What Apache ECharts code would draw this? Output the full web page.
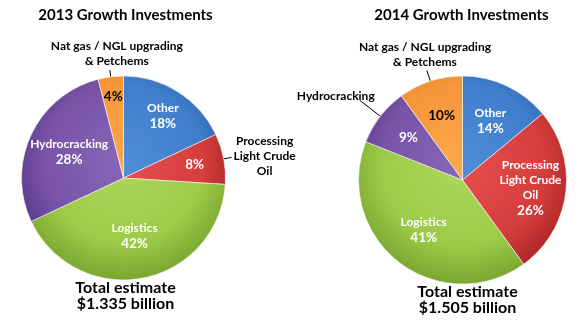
<!DOCTYPE html>
<html>
<head>
<meta charset="utf-8">
<script src="https://cdn.jsdelivr.net/npm/echarts@6/dist/echarts.min.js"></script>
<style>
  html, body { margin: 0; padding: 0; background: #ffffff; }
  #chart { width: 580px; height: 327px; }
</style>
</head>
<body>
<div id="chart"></div>
<script>
// ---- data ----
const categories = ['Other', 'Processing Light Crude Oil', 'Logistics', 'Hydrocracking', 'Nat gas / NGL upgrading & Petchems'];
const values2013 = [18, 8, 42, 28, 4];
const values2014 = [14, 26, 41, 9, 10];
const chartTitles = ['2013 Growth Investments', '2014 Growth Investments'];
const totalLines = [['Total estimate', '$1.335 billion'], ['Total estimate', '$1.505 billion']];
// names written inside a slice (with its percentage) / outside with a leader line
const innerNames2013 = ['Other', null, 'Logistics', 'Hydrocracking', null];
const outerNames2013 = [null, 'Processing\nLight Crude\nOil', null, null, 'Nat gas / NGL upgrading\n& Petchems'];
const innerNames2014 = ['Other', 'Processing\nLight Crude\nOil', 'Logistics', null, null];
const outerNames2014 = [null, null, null, 'Hydrocracking', 'Nat gas / NGL upgrading\n& Petchems'];

// ---- styles ----
const FONT = 'Lato, "Open Sans", sans-serif';
// [light, base, dark] per category
const palette = [
  ['#4f8dd8', '#3f7ecb', '#2b5ea6'],
  ['#e64f4f', '#d63d3d', '#ad2828'],
  ['#acd75c', '#9ccb48', '#7da932'],
  ['#8866b6', '#7853a8', '#5a3988'],
  ['#fca84b', '#f7953a', '#e27b1a']
];
const pctColors = ['#fff', '#fff', '#fff', '#fff', '#000'];

// outside label placement relative to the end of its leader line;
// 'fromLeft' centres the text block just to the right of the line end
const pies = [
  {
    values: values2013, inner: innerNames2013, outer: outerNames2013,
    center: [123.5, 178], radius: 102,
    labelRadius: [0.69, 0.68, 0.55, 0.56, 0.77],
    outerPlace: [null,
      { len: 8, dx: 2, dy: -1, fromLeft: true, va: 'middle' }, null, null,
      { len: 7, dx: 7, dy: -1, va: 'bottom' }],
    titleY: 15, totalY: 295.5
  },
  {
    values: values2014, inner: innerNames2014, outer: outerNames2014,
    center: [462.5, 180], radius: 104,
    labelRadius: [0.6, 0.63, 0.58, 0.63, 0.62],
    outerPlace: [null, null, null,
      { len: 26, dx: -24, dy: 3, va: 'bottom' },
      { len: 11, dx: -2, dy: -1, va: 'bottom' }],
    titleY: 15, totalY: 300
  }
];

function sliceFill(p, i) {
  const c = palette[i];
  return {
    type: 'radial', x: p.center[0], y: p.center[1] - p.radius * 0.15, r: p.radius * 1.12, global: true,
    colorStops: [
      { offset: 0, color: c[0] },
      { offset: 0.7, color: c[1] },
      { offset: 1, color: c[2] }
    ]
  };
}

function innerText(p, i) {
  const lines = [];
  if (p.inner[i]) p.inner[i].split('\n').forEach(s => lines.push('{n|' + s + '}'));
  lines.push('{p|' + p.values[i] + '%}');
  return lines.join('\n');
}

const series = [];
pies.forEach((p, pi) => {
  // the pie itself, with the outside labels
  series.push({
    type: 'pie',
    center: p.center,
    radius: [0, p.radius],
    startAngle: 90,
    clockwise: true,
    avoidLabelOverlap: false,
    silent: true,
    animation: false,
    data: p.values.map((v, i) => {
      const place = p.outerPlace[i];
      return {
        name: categories[i],
        value: v,
        itemStyle: { color: sliceFill(p, i), borderColor: 'rgba(255,255,255,0.55)', borderWidth: 1 },
        label: place ? {
          show: true, position: 'outside', formatter: p.outer[i],
          color: '#000', fontFamily: FONT, fontWeight: 'bold', fontSize: 12, lineHeight: 15
        } : { show: false },
        labelLine: place ? {
          show: true, length: place.len, length2: 0, smooth: false,
          lineStyle: { color: '#000', width: 1 }
        } : { show: false }
      };
    }),
    labelLayout: function (params) {
      const place = p.outerPlace[params.dataIndex];
      const pts = params.labelLinePoints;
      if (!place || !pts) return {};
      const end = pts[pts.length - 1];
      const half = place.fromLeft ? params.labelRect.width / 2 : 0;
      return {
        x: end[0] + place.dx + half,
        y: end[1] + place.dy,
        align: 'center',
        verticalAlign: place.va,
        labelLinePoints: pts
      };
    }
  });
  // a thin invisible ring per slice, so its inside label sits at that slice's label radius
  p.values.forEach((_, j) => {
    const r = p.radius * p.labelRadius[j];
    series.push({
      type: 'pie',
      center: p.center,
      radius: [r - 0.5, r + 0.5],
      startAngle: 90,
      clockwise: true,
      avoidLabelOverlap: false,
      silent: true,
      animation: false,
      z: 5,
      labelLine: { show: false },
      data: p.values.map((v, i) => ({
        name: categories[i],
        value: v,
        itemStyle: { color: 'rgba(0,0,0,0)', borderWidth: 0 },
        label: i === j ? {
          show: true, position: 'inside', formatter: innerText(p, i),
          rich: {
            n: { color: pctColors[i], fontFamily: FONT, fontWeight: 'bold', fontSize: 12, lineHeight: 15 },
            p: { color: pctColors[i], fontFamily: FONT, fontWeight: 'bold', fontSize: 13.5, lineHeight: 16 }
          }
        } : { show: false }
      }))
    });
  });
});

const graphics = [];
pies.forEach((p, pi) => {
  graphics.push({
    type: 'text', x: p.center[0] + (pi === 0 ? 2 : -1), y: p.titleY,
    style: { text: chartTitles[pi], fill: '#000', font: 'bold 15px ' + FONT, textAlign: 'center', textVerticalAlign: 'middle' }
  });
  graphics.push({
    type: 'text', x: p.center[0] + (pi === 0 ? 2 : 5), y: p.totalY,
    style: { text: totalLines[pi].join('\n'), fill: '#000', font: 'bold 16px ' + FONT, lineHeight: 16, textAlign: 'center', textVerticalAlign: 'middle' }
  });
});

const chart = echarts.init(document.getElementById('chart'), null, { renderer: 'canvas' });
chart.setOption({
  animation: false,
  backgroundColor: '#ffffff',
  series: series,
  graphic: graphics
});
</script>
</body>
</html>
